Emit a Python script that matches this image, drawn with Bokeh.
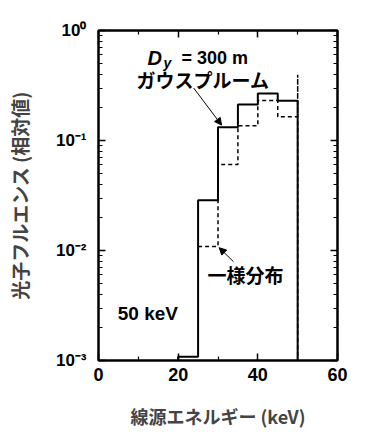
from bokeh.plotting import figure
from bokeh.models import (FixedTicker, LinearAxis, LogAxis, CustomJSTickFormatter,
                          Label, Arrow, NormalHead, Range1d)
from bokeh.embed import file_html
from bokeh.resources import INLINE

# ---- data ----
solid_edges = [20, 25, 30, 35, 40, 45, 50]
solid_vals = [1.08e-3, 0.0286, 0.132, 0.213, 0.267, 0.230]
dash_edges = [25, 30, 35, 40, 45, 50]
dash_vals = [0.0109, 0.0605, 0.136, 0.231, 0.164]
dash_spike = 0.395  # spike at 50 keV
x_ticks = [0, 20, 40, 60]
x_minor = [10, 30, 50]
y_ticks = [1e-3, 1e-2, 1e-1, 1e0]
y_minor = [m * 10.0 ** e for e in (-3, -2, -1) for m in range(2, 10)]

YMIN = 1e-3

def step_path(edges, vals, base):
    xs, ys = [edges[0]], [base]
    for i, v in enumerate(vals):
        xs += [edges[i], edges[i + 1]]
        ys += [v, v]
    return xs, ys

LAT = "Liberation Sans"
CJK = "Noto Sans CJK JP"

p = figure(width=357, height=431, y_axis_type="log",
           x_range=Range1d(0, 60), y_range=Range1d(1e-3, 1e0),
           output_backend="svg", toolbar_location=None,
           min_border_left=98, min_border_right=20, min_border_top=30, min_border_bottom=66)
p.xgrid.visible = False
p.ygrid.visible = False
p.outline_line_color = "black"
p.outline_line_width = 2
p.background_fill_color = "white"
p.border_fill_color = "white"

sx, sy = step_path(solid_edges, solid_vals, YMIN)
sx.append(solid_edges[-1]); sy.append(YMIN)
p.line(sx, sy, line_color="black", line_width=2)

dx, dy = [], []
for i, v in enumerate(dash_vals):
    dx += [dash_edges[i], dash_edges[i + 1]]
    dy += [v, v]
dx += [dash_edges[-1], dash_edges[-1]]
dy += [dash_spike, YMIN]
p.line(dx, dy, line_color="black", line_width=1.5, line_dash="4 3")

fmt = CustomJSTickFormatter(code="""
const e = Math.round(Math.log10(tick));
const sup = {'0':'\u2070','1':'\u00b9','2':'\u00b2','3':'\u00b3','-':'\u207b'};
return '10' + String(e).split('').map(c => sup[c]).join('');
""")
blank = CustomJSTickFormatter(code="return '';")

def style_axis(ax):
    ax.axis_line_color = "black"
    ax.axis_line_width = 2
    ax.major_tick_in = 7
    ax.major_tick_out = 0
    ax.minor_tick_in = 4
    ax.minor_tick_out = 0
    ax.major_tick_line_width = 1.5
    ax.minor_tick_line_width = 1.2
    ax.major_label_text_font = LAT
    ax.major_label_text_font_style = "bold"
    ax.major_label_text_font_size = "18px"
    ax.major_label_text_color = "black"

xa = p.xaxis[0]
xa.ticker = FixedTicker(ticks=x_ticks, minor_ticks=x_minor)
style_axis(xa)
xa.major_label_standoff = 7
xa.axis_label = "線源エネルギー (keV)"
xa.axis_label_text_font = CJK
xa.axis_label_text_font_style = "bold"
xa.axis_label_text_font_size = "18px"
xa.axis_label_standoff = 19

ya = p.yaxis[0]
ya.ticker = FixedTicker(ticks=y_ticks, minor_ticks=y_minor)
ya.formatter = fmt
style_axis(ya)
ya.major_label_text_font_size = "17px"
ya.major_label_standoff = 12
ya.axis_label = "光子フルエンス (相対値)"
ya.axis_label_text_font = CJK
ya.axis_label_text_font_style = "bold"
ya.axis_label_text_font_size = "19px"
ya.axis_label_standoff = 20

top = LinearAxis(ticker=FixedTicker(ticks=x_ticks, minor_ticks=x_minor), formatter=blank)
style_axis(top)
top.major_label_standoff = 0
p.add_layout(top, "above")
right = LogAxis(ticker=FixedTicker(ticks=y_ticks, minor_ticks=y_minor), formatter=blank)
style_axis(right)
right.major_label_standoff = 0
p.add_layout(right, "right")

def lab(x, y, t, font=LAT, size="18px", style="bold", align="left", base="alphabetic"):
    p.add_layout(Label(x=x, y=y, text=t, text_font=font, text_font_size=size,
                       text_font_style=style, text_align=align, text_baseline=base,
                       text_color="black"))

lab(12.3, 0.56, "D", size="20px", style="bold italic")
lab(16.3, 0.51, "y", size="14px", style="bold italic")
lab(20.85, 0.56, "= 300 m", size="18px")
lab(26.25, 0.356, "ガウスプルーム", font=CJK, size="19px", align="center", base="middle")
lab(36.9, 0.0060, "一様分布", font=CJK, size="19px", align="center", base="middle")
lab(12.4, 0.00269, "50 keV", size="19px", align="center", base="middle")

p.add_layout(Arrow(x_start=23.9, y_start=0.30, x_end=30.9, y_end=0.138,
                   line_width=1, line_color="black",
                   end=NormalHead(size=7, line_color="black", fill_color="black")))
p.add_layout(Arrow(x_start=33.9, y_start=0.0079, x_end=30.3, y_end=0.0106,
                   line_width=1, line_color="black",
                   end=NormalHead(size=7, line_color="black", fill_color="black")))

open("out.html", "w").write(file_html(p, INLINE))
